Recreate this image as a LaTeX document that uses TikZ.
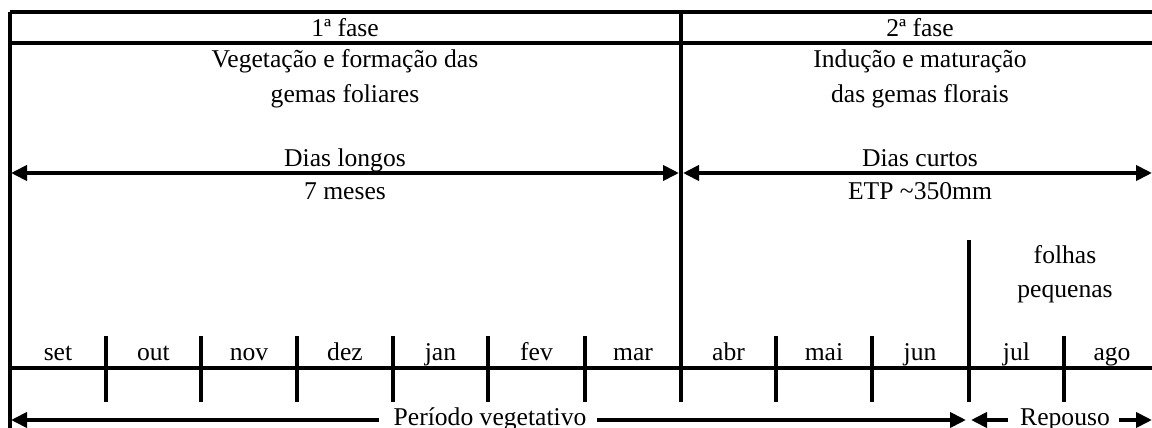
\documentclass[tikz,border=0pt]{standalone}
\usepackage{fontspec}
\setmainfont{Liberation Serif}
\usetikzlibrary{arrows.meta}
\tikzset{
  lbl/.style={inner sep=0pt, anchor=base, font=\fontsize{12.8pt}{15pt}\selectfont},
  gridline/.style={line width=1.6pt},
  dbl/.style={line width=1.9pt, {Triangle[length=8pt,width=7.5pt]}-{Triangle[length=8pt,width=7.5pt]}},
  sgl/.style={line width=1.9pt, -{Triangle[length=8pt,width=7.5pt]}},
}
\begin{document}
\begin{tikzpicture}[x=0.5pt,y=-0.5pt]
\useasboundingbox (0,0) rectangle (1152,428);
% frame lines
\draw[gridline] (10,12) -- (1152,12);
\draw[gridline] (10,43) -- (1152,43);
\draw[gridline] (10,12) -- (10,428);
\draw[gridline] (681,12) -- (681,402);
\draw[gridline] (10,368) -- (1152,368);
\foreach \x in {106,201,297,393,488,585,776,872,1064}
  \draw[gridline] (\x,336) -- (\x,402);
\draw[gridline] (969,240) -- (969,402);
% header texts
\node[lbl] (f1) at (345,36) {1ª fase};
\node[lbl] (f2) at (920,36) {2ª fase};
\node[lbl] (v1) at (345,67) {Vegetação e formação das};
\node[lbl] (v2) at (345,102) {gemas foliares};
\node[lbl] (i1) at (920,67) {Indução e maturação};
\node[lbl] (i2) at (920,102) {das gemas florais};
\node[lbl] (dl) at (345,166) {Dias longos};
\node[lbl] (m7) at (345,199) {7 meses};
\node[lbl] (dc) at (920,166) {Dias curtos};
\node[lbl] (etp) at (920,199) {ETP \char"7E 350mm};
% day arrows
\coordinate (a1) at (11,173);
\coordinate (a2) at (679,173);
\coordinate (a3) at (683,173);
\coordinate (a4) at (1152,173);
\draw[dbl] (a1) -- (a2);
\draw[dbl] (a3) -- (a4);
% small leaves
\node[lbl] (fo) at (1065,263) {folhas};
\node[lbl] (pq) at (1065,297) {pequenas};
% months
\node[lbl] (set) at (58,360) {set};
\node[lbl] (out) at (153.5,360) {out};
\node[lbl] (nov) at (249,360) {nov};
\node[lbl] (dez) at (345,360) {dez};
\node[lbl] (jan) at (440.5,360) {jan};
\node[lbl] (fev) at (536.5,360) {fev};
\node[lbl] (mar) at (633,360) {mar};
\node[lbl] (abr) at (728.5,360) {abr};
\node[lbl] (mai) at (824,360) {mai};
\node[lbl] (jun) at (920,360) {jun};
\node[lbl] (jul) at (1016.5,360) {jul};
\node[lbl] (ago) at (1112,360) {ago};
% bottom arrows
\node[lbl] (pv) at (490,425) {Período vegetativo};
\node[lbl] (rp) at (1065,425) {Repouso};
\coordinate (b1) at (11,420);
\coordinate (b2) at (966,420);
\coordinate (b3) at (971,420);
\coordinate (b4) at (1152,420);
\draw[sgl] (pv.west |- b1) ++(-14,0) -- (b1);
\draw[sgl] (pv.east |- b2) ++(10,0) -- (b2);
\draw[sgl] (rp.west |- b3) ++(-12,0) -- (b3);
\draw[sgl] (rp.east |- b4) ++(9,0) -- (b4);
\end{tikzpicture}
\end{document}
